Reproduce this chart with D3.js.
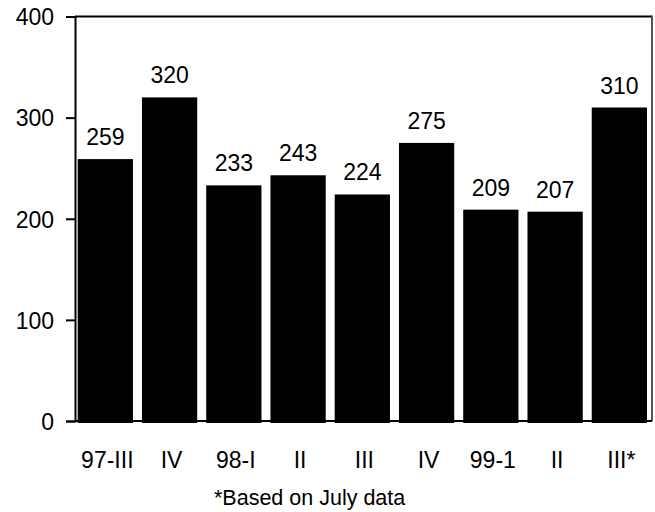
<!DOCTYPE html>
<html>
<head>
<meta charset="utf-8">
<script src="https://cdn.jsdelivr.net/npm/d3@7"></script>
<style>
  html, body { margin: 0; padding: 0; background: #fff; }
  svg { display: block; font-family: "Liberation Sans", Arial, sans-serif; }
</style>
</head>
<body>
<svg id="chart" width="655" height="512"></svg>
<script>
// Quarterly values, 1997 Q3 through 1999 Q3
const categories = ["97-III", "IV", "98-I", "II", "III", "IV", "99-1", "II", "III*"];
const values = [259, 320, 233, 243, 224, 275, 209, 207, 310];
const yTicks = [0, 100, 200, 300, 400];
const footnote = "*Based on July data";

const svg = d3.select("#chart");
const plotLeft = 75, plotRight = 652, plotTop = 16.5, plotBottom = 421;

const x = d3.scaleBand()
  .domain(d3.range(categories.length))
  .range([plotLeft, plotRight])
  .paddingInner(0.14)
  .paddingOuter(0.06)
  .align(0.35);

const y = d3.scaleLinear().domain([0, 400]).range([plotBottom, plotTop]);

// Bars
svg.append("g")
  .selectAll("rect")
  .data(values)
  .join("rect")
  .attr("x", (d, i) => x(i))
  .attr("y", d => y(d))
  .attr("width", x.bandwidth())
  .attr("height", d => y(0) - y(d) + 2)
  .attr("fill", "#000");

// Frame: top and right edges
svg.append("line")
  .attr("x1", plotLeft).attr("x2", plotRight)
  .attr("y1", plotTop).attr("y2", plotTop)
  .attr("stroke", "#000").attr("stroke-width", 2);
svg.append("line")
  .attr("x1", plotRight).attr("x2", plotRight)
  .attr("y1", plotTop - 1).attr("y2", plotBottom)
  .attr("stroke", "#555").attr("stroke-width", 2);
// Baseline
svg.append("line")
  .attr("x1", plotLeft).attr("x2", plotRight)
  .attr("y1", plotBottom).attr("y2", plotBottom)
  .attr("stroke", "#000").attr("stroke-width", 2);

// Y axis
const yAxis = svg.append("g")
  .attr("transform", `translate(${plotLeft},0)`)
  .call(d3.axisLeft(y).tickValues(yTicks).tickSize(9).tickPadding(12).tickFormat(d3.format("d")));
yAxis.select(".domain").attr("stroke", "#000").attr("stroke-width", 2);
yAxis.selectAll(".tick line").attr("stroke", "#000").attr("stroke-width", 2);
yAxis.selectAll(".tick text")
  .attr("font-size", 23)
  .attr("font-family", "Liberation Sans, Arial, sans-serif")
  .attr("fill", "#000")
  .attr("dy", "0.36em");

// Category labels
svg.append("g")
  .selectAll("text")
  .data(categories)
  .join("text")
  .attr("x", (d, i) => x(i) + x.bandwidth() / 2 + 2)
  .attr("y", 468)
  .attr("text-anchor", "middle")
  .attr("font-size", 23)
  .attr("fill", "#000")
  .text(d => d);

// Value labels above bars
svg.append("g")
  .selectAll("text")
  .data(values)
  .join("text")
  .attr("x", (d, i) => x(i) + x.bandwidth() / 2)
  .attr("y", d => y(d) - 14)
  .attr("text-anchor", "middle")
  .attr("font-size", 23)
  .attr("fill", "#000")
  .text(d => d);

// Footnote
svg.append("text")
  .attr("x", 214)
  .attr("y", 505)
  .attr("font-size", 21.5)
  .attr("fill", "#000")
  .text(footnote);
</script>
</body>
</html>
